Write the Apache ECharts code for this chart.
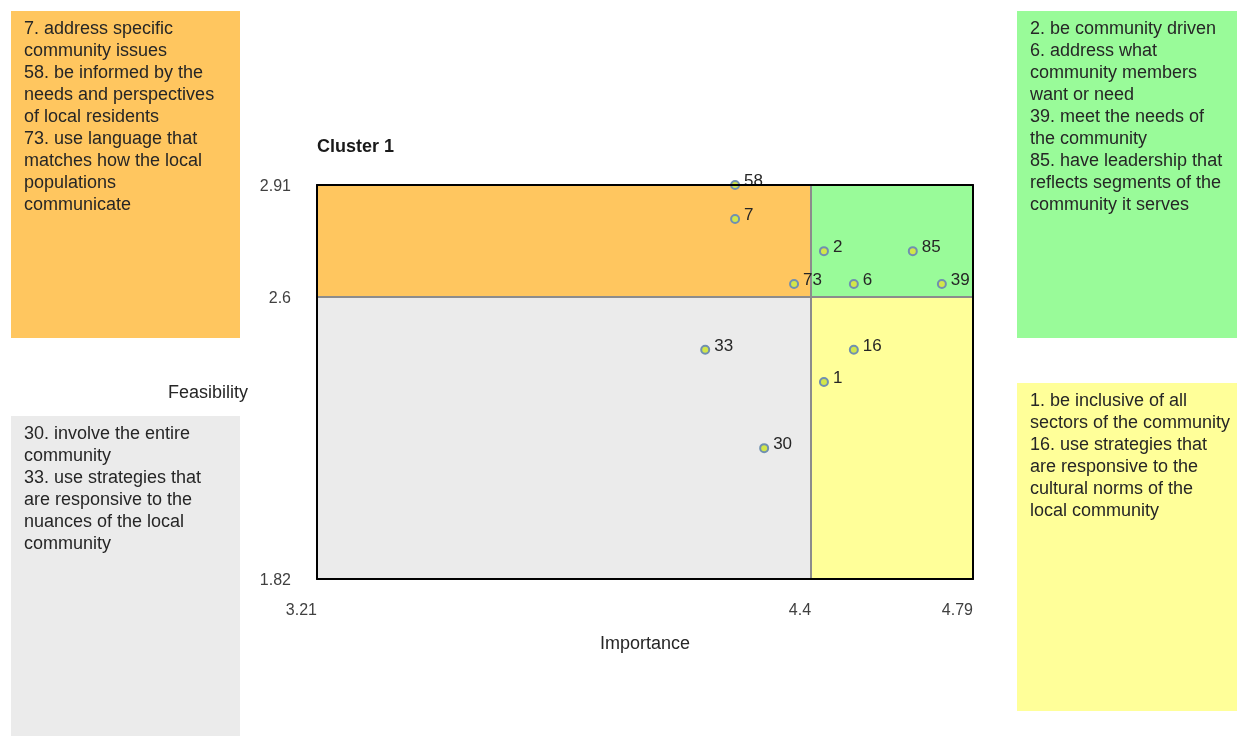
<!DOCTYPE html>
<html><head><meta charset="utf-8">
<script src="https://cdn.jsdelivr.net/npm/echarts@6/dist/echarts.min.js"></script>
<style>html,body{margin:0;padding:0;background:#fff}#c{width:1238px;height:736px}</style>
</head><body><div id="c"></div>
<script>
const ids = ['58','7','2','85','73','6','39','33','16','1','30'];
const importance = [4.217, 4.217, 4.431, 4.645, 4.359, 4.503, 4.715, 4.145, 4.503, 4.431, 4.287];
const feasibility = [2.91, 2.816, 2.727, 2.727, 2.636, 2.636, 2.636, 2.454, 2.454, 2.365, 2.182];
const xRange = [3.21, 4.79];
const yRange = [1.82, 2.91];
const xTicks = [3.21, 4.4, 4.79];
const yTicks = [1.82, 2.6, 2.91];
const xSplit = 4.4, ySplit = 2.6;
const boxTexts = {
  tl: "7. address specific\ncommunity issues\n58. be informed by the\nneeds and perspectives\nof local residents\n73. use language that\nmatches how the local\npopulations\ncommunicate",
  tr: "2. be community driven\n6. address what\ncommunity members\nwant or need\n39. meet the needs of\nthe community\n85. have leadership that\nreflects segments of the\ncommunity it serves",
  bl: "30. involve the entire\ncommunity\n33. use strategies that\nare responsive to the\nnuances of the local\ncommunity",
  br: "1. be inclusive of all\nsectors of the community\n16. use strategies that\nare responsive to the\ncultural norms of the\nlocal community"
};
const colors = {tl:'#FFC65F', tr:'#99FB99', bl:'#EBEBEB', br:'#FFFF99'};
const FONT = '"Liberation Sans", Arial, sans-serif';

const chart = echarts.init(document.getElementById('c'));
function box(x,y,w,h,key,tx,ty){
  return [
    {type:'rect', left:x, top:y, shape:{width:w,height:h}, style:{fill:colors[key]}, z:1},
    {type:'text', left:tx, top:ty, style:{text:boxTexts[key], font:'18px '+FONT, fill:'#262626', lineHeight:22}, z:2}
  ];
}
chart.setOption({
  animation:false,
  grid:{left:317, top:185, width:656, height:394, containLabel:false},
  title:{text:'Cluster 1', left:312, top:133, textStyle:{fontFamily:FONT, fontSize:18, fontWeight:'bold', color:'#1a1a1a'}},
  graphic: [].concat(
    box(11,11,229,327,'tl',24,18),
    box(1017,11,220,327,'tr',1030,18),
    box(11,416,229,320,'bl',24,423),
    box(1017,383,220,328,'br',1030,390),
    [{type:'text', left:168, top:384, style:{text:'Feasibility', font:'18px '+FONT, fill:'#262626'}}]
  ),
  xAxis:[{
    type:'value', min:xRange[0], max:xRange[1], z:10,
    name:'Importance', nameLocation:'middle', nameGap:56,
    nameTextStyle:{fontFamily:FONT, fontSize:18, color:'#262626'},
    axisLine:{show:true, onZero:false, lineStyle:{color:'#000', width:2}},
    axisTick:{show:false},
    splitLine:{show:false},
    axisLabel:{customValues:xTicks, margin:24, align:'right', fontFamily:FONT, fontSize:16, color:'#404040', formatter:v=>String(v)}
  },{
    type:'value', position:'top', min:xRange[0], max:xRange[1], z:10,
    axisLine:{show:true, onZero:false, lineStyle:{color:'#000', width:2}},
    axisTick:{show:false}, axisLabel:{show:false}, splitLine:{show:false}
  }],
  yAxis:[{
    type:'value', min:yRange[0], max:yRange[1], z:10,
    axisLine:{show:true, onZero:false, lineStyle:{color:'#000', width:2}},
    axisTick:{show:false},
    splitLine:{show:false},
    axisLabel:{customValues:yTicks, margin:26, verticalAlign:'top', padding:[-6,0,0,0], fontFamily:FONT, fontSize:16, color:'#404040', formatter:v=>String(v)}
  },{
    type:'value', position:'right', min:yRange[0], max:yRange[1], z:10,
    axisLine:{show:true, onZero:false, lineStyle:{color:'#000', width:2}},
    axisTick:{show:false}, axisLabel:{show:false}, splitLine:{show:false}
  }],
  series:[{
    type:'scatter',
    z:5,
    clip:false,
    symbol:'circle',
    symbolSize:8,
    itemStyle:{color:'#D2E64A', borderColor:'#7090B0', borderWidth:2, opacity:1},
    label:{show:true, position:'right', distance:4, offset:[0,-4], formatter:p=>p.data[2], fontFamily:FONT, fontSize:17, color:'#262626'},
    data: ids.map((id,i)=>[importance[i], feasibility[i], id]),
    markArea:{
      silent:true,
      itemStyle:{opacity:1},
      data:[
        [{coord:[xRange[0], ySplit], itemStyle:{color:colors.tl}}, {coord:[xSplit, yRange[1]]}],
        [{coord:[xSplit, ySplit], itemStyle:{color:colors.tr}}, {coord:[xRange[1], yRange[1]]}],
        [{coord:[xRange[0], yRange[0]], itemStyle:{color:colors.bl}}, {coord:[xSplit, ySplit]}],
        [{coord:[xSplit, yRange[0]], itemStyle:{color:colors.br}}, {coord:[xRange[1], ySplit]}]
      ]
    },
    markLine:{
      silent:true, symbol:'none', label:{show:false},
      lineStyle:{color:'#8C8C8C', width:2, type:'solid'},
      data:[{xAxis:xSplit},{yAxis:ySplit}]
    }
  }]
});
</script></body></html>
